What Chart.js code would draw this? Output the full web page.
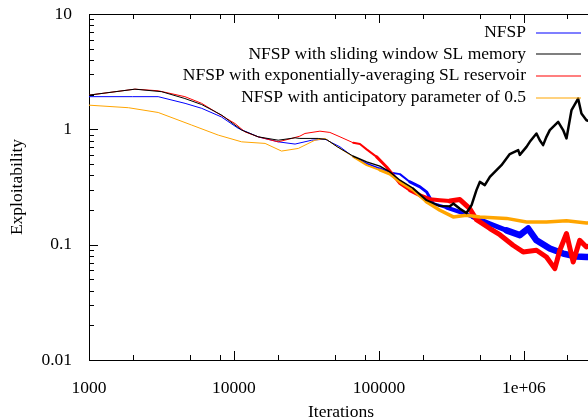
<!DOCTYPE html>
<html>
<head>
<meta charset="utf-8">
<script src="https://cdn.jsdelivr.net/npm/chart.js@4.4.1/dist/chart.umd.min.js"></script>
<style>
  html, body { margin: 0; padding: 0; overflow: hidden; background: #fff; }
  #wrap { width: 600px; height: 420px; }
</style>
</head>
<body>
<div id="wrap"><canvas id="expl" width="600" height="420"></canvas></div>
<script>
// series names, in key order
var seriesNames = [
  'NFSP',
  'NFSP with sliding window SL memory',
  'NFSP with exponentially-averaging SL reservoir',
  'NFSP with anticipatory parameter of 0.5'
];

// tick labels
var xTickValues = [1000, 10000, 100000, 1000000];
var xTickLabels = ['1000', '10000', '100000', '1e+06'];
var yTickValues = [0.01, 0.1, 1, 10];
var yTickLabels = ['0.01', '0.1', '1', '10'];

// NFSP (blue)
var blueIter = [1000, 2000, 3000, 4600, 6000, 8200, 10700, 14700, 20200, 26400, 34400, 42400, 53900, 66600, 82300,
  101600, 119000, 139700, 163700, 192000, 213000, 237000, 293000, 362000, 447000, 583000, 759000, 938000,
  1071000, 1222000, 1510000, 1867000, 2308000, 2703000, 3000000];
var blueExpl = [1.92, 1.92, 1.92, 1.68, 1.52, 1.28, 1.02, 0.861, 0.779, 0.745, 0.805, 0.822, 0.705, 0.577, 0.506,
  0.458, 0.423, 0.409, 0.350, 0.317, 0.287, 0.227, 0.210, 0.192, 0.174, 0.152, 0.133, 0.121,
  0.138, 0.109, 0.0925, 0.0837, 0.079, 0.0782, 0.078];

// sliding window (black)
var blackIter = [1000, 2075, 3170, 4590, 5990, 8220, 11300, 14700, 20200, 26400, 28500, 38100, 43500, 51700, 66600,
  82300, 101600, 119000, 139700, 172600, 213000, 263500, 309000, 326000, 362000, 402000, 436000, 471000, 497000,
  538000, 583000, 648000, 701000, 800000, 914000, 938000, 1043000, 1099000, 1222000, 1288000, 1358000, 1432000,
  1510000, 1725000, 1867000, 1969000, 2133000, 2368000, 2497000, 2703000, 3000000];
var blackExpl = [1.98, 2.23, 2.12, 1.85, 1.64, 1.33, 0.985, 0.861, 0.805, 0.844, 0.834, 0.834, 0.817, 0.705, 0.585,
  0.522, 0.480, 0.428, 0.362, 0.307, 0.243, 0.216, 0.215, 0.227, 0.205, 0.188, 0.220, 0.297, 0.350,
  0.328, 0.387, 0.443, 0.489, 0.61, 0.66, 0.60, 0.705, 0.779, 0.921, 0.805, 0.730, 0.861,
  0.985, 1.16, 0.985, 0.834, 1.47, 1.85, 1.37, 1.20, 1.15];

// exponentially-averaging reservoir (red)
var redIter = [1000, 2075, 3000, 4590, 5990, 7800, 10200, 11900, 14700, 20200, 25000, 28500, 30900, 39200, 45900,
  53900, 66600, 74000, 82300, 96500, 113000, 125700, 139700, 163700, 192000, 225000, 263500, 309000, 362000,
  424000, 471000, 583000, 683000, 843000, 989000, 1222000, 1432000, 1636000, 1771000, 1969000, 2189000,
  2430000, 2703000, 3000000];
var redExpl = [1.98, 2.23, 2.16, 1.92, 1.68, 1.37, 1.12, 0.951, 0.861, 0.779, 0.834, 0.873, 0.921, 0.964, 0.94,
  0.861, 0.764, 0.745, 0.670, 0.577, 0.472, 0.400, 0.339, 0.297, 0.268, 0.248, 0.243, 0.239, 0.246,
  0.205, 0.165, 0.138, 0.122, 0.0989, 0.0865, 0.0894, 0.0782, 0.0620, 0.0894, 0.125, 0.0708,
  0.109, 0.0955, 0.10];

// anticipatory parameter 0.5 (orange)
var orangeIter = [1000, 1870, 3000, 5100, 7800, 11300, 16400, 21300, 27800, 36200, 42400, 51700, 66600, 82300,
  101600, 119000, 139700, 172600, 213000, 263500, 326000, 402000, 497000, 759000, 1043000, 1432000, 1969000,
  2703000, 3000000];
var orangeExpl = [1.62, 1.54, 1.40, 1.09, 0.891, 0.779, 0.755, 0.648, 0.683, 0.805, 0.834, 0.705, 0.577, 0.489,
  0.443, 0.409, 0.350, 0.297, 0.235, 0.199, 0.174, 0.180, 0.174, 0.169, 0.157, 0.157, 0.161,
  0.154, 0.155];

var serif = '"Liberation Serif", "DejaVu Serif", serif';

function pairs(xs, ys) {
  return xs.map(function (x, i) { return { x: x, y: ys[i] }; });
}

// the noisy tail of each run shows up as a thick band, so widen the stroke with the iteration count
function bandWidth(steps) {
  return function (ctx) {
    var x = ctx.p0.parsed.x;
    for (var i = 0; i < steps.length; i++) {
      if (x < steps[i][0]) return steps[i][1];
    }
    return steps[steps.length - 1][1];
  };
}

function line(label, color, xs, ys, order, steps) {
  return {
    label: label,
    data: pairs(xs, ys),
    borderColor: color,
    backgroundColor: color,
    borderWidth: 1,
    pointRadius: 0,
    tension: 0,
    order: order,
    borderJoinStyle: 'round',
    borderCapStyle: 'round',
    segment: { borderWidth: bandWidth(steps) }
  };
}

// frame + inward tick marks, gnuplot style
var frameTicks = {
  id: 'frameTicks',
  afterDatasetsDraw: function (chart) {
    var ctx = chart.ctx, a = chart.chartArea;
    var xs = chart.scales.x, ys = chart.scales.y;
    ctx.save();
    ctx.strokeStyle = '#000';
    ctx.lineWidth = 1;
    ctx.beginPath();
    ctx.moveTo(a.left, a.top + 0.5); ctx.lineTo(a.right, a.top + 0.5);
    ctx.moveTo(a.right - 0.5, a.top); ctx.lineTo(a.right - 0.5, a.bottom);
    var d, m, px, py;
    for (d = 1000; d <= 1000000; d *= 10) {
      [1, 2, 5, 8].forEach(function (k) {
        var v = d * k;
        if (v > xs.max) return;
        var len = k === 1 ? 9 : 5;
        px = Math.round(xs.getPixelForValue(v)) + 0.5;
        ctx.moveTo(px, a.bottom); ctx.lineTo(px, a.bottom - len);
        ctx.moveTo(px, a.top); ctx.lineTo(px, a.top + len);
      });
    }
    for (d = 0.01; d < 10; d *= 10) {
      for (m = 1; m <= 9; m++) {
        py = Math.round(ys.getPixelForValue(d * m)) + 0.5;
        var l = m === 1 ? 9 : 5;
        ctx.moveTo(a.left, py); ctx.lineTo(a.left + l, py);
      }
    }
    py = Math.round(ys.getPixelForValue(10)) + 0.5;
    ctx.moveTo(a.left, py); ctx.lineTo(a.left + 9, py);
    ctx.stroke();
    ctx.restore();
  }
};

// key in the top right corner: text right-aligned, sample line after it
var keyBox = {
  id: 'keyBox',
  afterDatasetsDraw: function (chart) {
    var ctx = chart.ctx;
    ctx.save();
    ctx.font = '17.5px ' + serif;
    ctx.textAlign = 'right';
    ctx.textBaseline = 'middle';
    seriesNames.forEach(function (name, i) {
      var ds = chart.data.datasets[i];
      var y = 32.5 + i * 21.7;
      ctx.fillStyle = '#000';
      ctx.fillText(name, 526, y);
      ctx.strokeStyle = ds.borderColor;
      ctx.lineWidth = 1.2;
      ctx.beginPath();
      ctx.moveTo(536, Math.round(y));
      ctx.lineTo(581, Math.round(y));
      ctx.stroke();
    });
    ctx.restore();
  }
};

var chart = new Chart(document.getElementById('expl'), {
  type: 'line',
  data: {
    datasets: [
      line(seriesNames[0], '#0000ff', blueIter, blueExpl, 4,
        [[60000, 1], [100000, 1.5], [150000, 2], [250000, 3], [400000, 4], [600000, 5], [1e9, 6.5]]),
      line(seriesNames[1], '#000000', blackIter, blackExpl, 1,
        [[60000, 1], [150000, 1.5], [300000, 2], [1e9, 2.5]]),
      line(seriesNames[2], '#ff0000', redIter, redExpl, 3,
        [[60000, 1], [90000, 2], [150000, 3], [300000, 4], [1e9, 5]]),
      line(seriesNames[3], '#ffa500', orangeIter, orangeExpl, 2,
        [[60000, 1], [100000, 2], [200000, 3], [1e9, 3.5]])
    ]
  },
  options: {
    responsive: false,
    animation: false,
    layout: { padding: { top: 14, right: 7, left: 0, bottom: 0 } },
    plugins: { legend: { display: false }, tooltip: { enabled: false } },
    scales: {
      x: {
        type: 'logarithmic',
        min: 1000,
        max: 3000000,
        grid: { display: false },
        border: { display: true, color: '#000', width: 1 },
        afterBuildTicks: function (s) { s.ticks = xTickValues.map(function (v) { return { value: v }; }); },
        afterFit: function (s) { s.height = 60; s.paddingLeft = 0; s.paddingRight = 0; },
        ticks: {
          autoSkip: false, maxRotation: 0, padding: 10, color: '#000',
          font: { family: serif, size: 17.5 },
          callback: function (v) { return xTickLabels[xTickValues.indexOf(v)]; }
        },
        title: {
          display: true, text: 'Iterations', color: '#000',
          font: { family: serif, size: 17.5, lineHeight: 1 },
          padding: { top: 0, bottom: -1.5 }
        }
      },
      y: {
        type: 'logarithmic',
        min: 0.01,
        max: 10,
        grid: { display: false },
        border: { display: true, color: '#000', width: 1 },
        afterBuildTicks: function (s) { s.ticks = yTickValues.map(function (v) { return { value: v }; }); },
        afterFit: function (s) { s.width = 89; s.paddingTop = 0; s.paddingBottom = 0; },
        ticks: {
          autoSkip: false, padding: 9, color: '#000',
          font: { family: serif, size: 17.5 },
          callback: function (v) { return yTickLabels[yTickValues.indexOf(v)]; }
        },
        title: {
          display: true, text: 'Exploitability', color: '#000',
          font: { family: serif, size: 17.5 },
          padding: { top: 7, bottom: 0 }
        }
      }
    }
  },
  plugins: [frameTicks, keyBox]
});
</script>
</body>
</html>
